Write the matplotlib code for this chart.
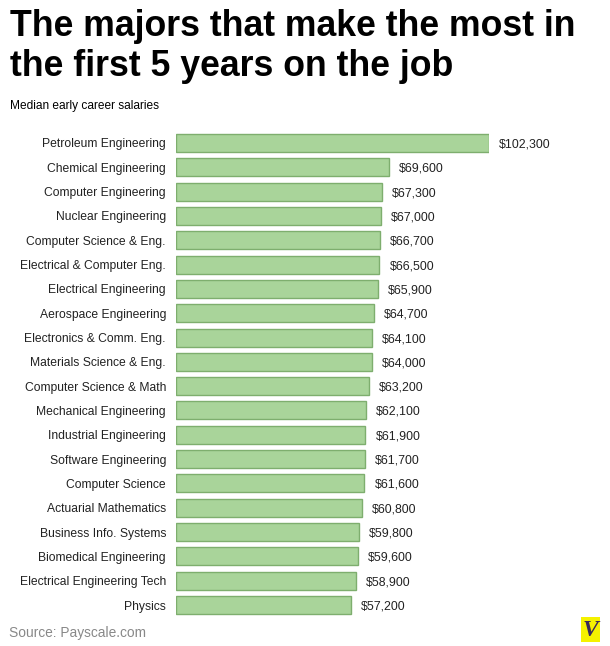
import matplotlib.pyplot as plt
from matplotlib.patches import Rectangle

plt.rcParams['font.family'] = ['Liberation Sans', 'DejaVu Sans']

majors = ['Petroleum Engineering', 'Chemical Engineering', 'Computer Engineering',
          'Nuclear Engineering', 'Computer Science & Eng.', 'Electrical & Computer Eng.',
          'Electrical Engineering', 'Aerospace Engineering', 'Electronics & Comm. Eng.',
          'Materials Science & Eng.', 'Computer Science & Math', 'Mechanical Engineering',
          'Industrial Engineering', 'Software Engineering', 'Computer Science',
          'Actuarial Mathematics', 'Business Info. Systems', 'Biomedical Engineering',
          'Electrical Engineering Tech', 'Physics']
salaries = [102300, 69600, 67300, 67000, 66700, 66500, 65900, 64700, 64100, 64000,
            63200, 62100, 61900, 61700, 61600, 60800, 59800, 59600, 58900, 57200]

W, H = 610, 646
fig = plt.figure(figsize=(W / 100, H / 100), dpi=100)
fig.patch.set_facecolor('white')

# axes spans bar area: x 176..489 px for 0..102300, bar centres 143..605 px
ax = fig.add_axes([176 / W, 1 - 617.2 / H, (489 - 176) / W, (617.2 - 130.8) / H])
ypos = list(range(len(majors)))
ax.barh(ypos, salaries, height=0.74, color='#a9d49a', edgecolor='#7eae6e', linewidth=1)
ax.set_xlim(0, max(salaries))
ax.set_ylim(len(majors) - 0.5, -0.5)
ax.axis('off')

for y, name, val in zip(ypos, majors, salaries):
    ax.annotate(name, (0, y), xytext=(-10, 0), textcoords='offset pixels',
                ha='right', va='center_baseline', fontsize=8.7, color='#222222',
                annotation_clip=False)
    ax.annotate('${:,}'.format(val), (val, y), xytext=(10, 0), textcoords='offset pixels',
                ha='left', va='center_baseline', fontsize=8.9, color='#222222',
                annotation_clip=False)

fig.text(10 / W, 1 - 36 / H, 'The majors that make the most in', fontsize=25.7,
         fontweight='bold', ha='left', va='baseline')
fig.text(10 / W, 1 - 76 / H, 'the first 5 years on the job', fontsize=25.7,
         fontweight='bold', ha='left', va='baseline')
fig.text(10 / W, 1 - 109 / H, 'Median early career salaries', fontsize=8.6,
         ha='left', va='baseline')
fig.text(9 / W, 1 - 637 / H, 'Source: Payscale.com', fontsize=9.9, color='#888888',
         ha='left', va='baseline')

# logo
fig.patches.append(Rectangle((581 / W, 1 - 642 / H), 19 / W, 25 / H,
                             transform=fig.transFigure, facecolor='#f5f200',
                             edgecolor='none'))
fig.text(590.5 / W, 1 - 630 / H, 'V', fontsize=17, fontweight='bold', style='italic',
         family='Liberation Serif', color='#3a2a5a', ha='center', va='center')

fig.savefig('out.png', dpi=100)
